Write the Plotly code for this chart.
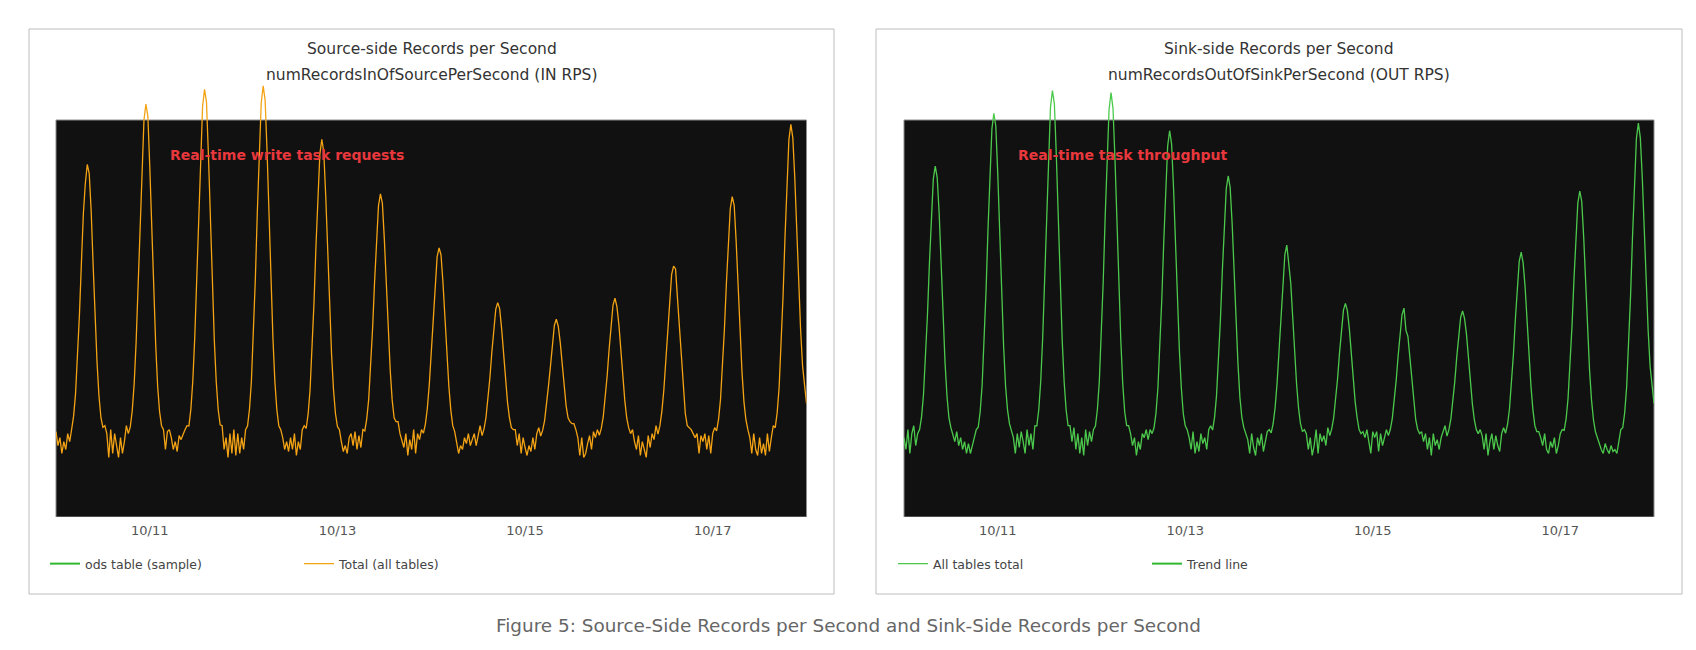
import pandas as pd
import plotly.graph_objects as go

W, H = 1696, 650

# ---------------- data (30-minute samples, 10/10 00:00 -> 10/18 00:00) ----------------
start_time = "2023-10-10 00:00"
tick_vals = ["2023-10-11", "2023-10-13", "2023-10-15", "2023-10-17"]
tick_text = ["10/11", "10/13", "10/15", "10/17"]

source_rps = [
    21.5, 18, 20, 16, 19, 17, 21, 19,
    22.1, 25.4, 31.0, 39.6, 51.0, 64.0, 76.4, 84.0, 88.8, 86.5, 77.0, 63.5, 50.5, 38.9, 30.4, 25.0, 22.6,
    23, 21, 15, 22, 16, 21, 18, 15, 20, 16, 19, 23, 21,
    22.7, 26.7, 33.6, 44.1, 57.9, 73.7, 89.0, 99.9, 104.0, 101.0, 88.0, 72.5, 57.0, 43.5, 33.0, 26.5, 23.0,
    22, 17, 21.5, 22, 20, 17, 19, 16.5, 20.5, 19.5, 21, 22, 23,
    22.9, 27.1, 34.3, 45.2, 59.6, 76.1, 92.0, 103.4, 107.7, 104.5, 91.0, 75.0, 59.0, 44.5, 34.0, 27.0, 23.2,
    23, 17, 20, 15, 21, 16, 22, 15.5, 21, 16, 20, 17, 22,
    22.9, 27.2, 34.4, 45.4, 60.0, 76.7, 92.7, 104.3, 108.6, 105.0, 92.0, 76.0, 59.5, 45.0, 34.0, 27.0, 23.0,
    22, 20, 17, 19, 16.5, 20, 17, 21, 15.5, 19, 17, 22, 23,
    22.3, 25.9, 32.1, 41.4, 53.9, 68.0, 81.6, 91.4, 95.1, 92.0, 81.0, 67.5, 53.5, 41.0, 32.0, 26.0, 22.8,
    22, 19, 16.5, 18, 16, 20, 21, 18, 21.5, 17, 20.5, 17.5, 22,
    21.7, 24.7, 29.7, 37.4, 47.6, 59.2, 70.4, 78.4, 81.4, 79.0, 70.0, 58.5, 47.0, 37.0, 29.5, 25.0, 24.0,
    24, 21, 19, 17.5, 21, 15.5, 19.5, 17, 22, 16, 21, 19.5, 22,
    21.1, 23.4, 27.4, 33.4, 41.4, 50.4, 59.2, 65.5, 67.8, 66.0, 59.0, 50.0, 41.0, 33.0, 27.0, 23.0, 21.5,
    19, 16, 18, 17, 20, 18.5, 21, 18, 19.5, 21, 18, 21, 23,
    20.5, 22.2, 25.0, 29.3, 35.0, 41.5, 47.8, 52.3, 54.0, 52.5, 47.5, 41.0, 34.5, 29.0, 25.0, 22.5, 22.0,
    22, 18, 21, 16, 20, 17.5, 15.5, 18, 16.5, 20, 17, 21, 22.5,
    20.4, 21.8, 24.3, 28.1, 33.1, 38.0, 42.5, 48.3, 49.8, 48.0, 44.0, 38.5, 33.0, 28.0, 25.0, 24.0, 23.5,
    23.5, 22, 20, 15.5, 20, 15, 16, 18.5, 20.5, 17, 21.5, 20, 22,
    20.6, 22.3, 25.2, 29.6, 35.5, 42.2, 48.7, 53.4, 55.1, 53.0, 48.5, 42.0, 35.0, 29.5, 25.0, 22.5, 21.0,
    22, 19, 17, 20.5, 15.5, 19, 17, 15, 20.5, 17.5, 21, 19.5, 23,
    20.9, 23.0, 26.6, 32.0, 39.2, 47.5, 55.4, 61.1, 63.2, 62.5, 55.0, 47.0, 39.0, 31.5, 26.0, 23.0, 22.5,
    22, 21, 20, 21, 16, 20.5, 19, 21, 17, 20.5, 16, 21, 22.5,
    21.7, 24.6, 29.6, 37.2, 47.3, 58.7, 69.8, 77.7, 80.7, 78.5, 69.5, 58.0, 46.5, 36.5, 29.0, 24.5, 22.0,
    20, 16, 21, 17, 15.5, 20, 16, 18.5, 15.5, 21, 16.5, 20, 23,
    22.5, 26.3, 32.7, 42.6, 55.6, 70.5, 84.8, 95.1, 98.9, 95.5, 85.5, 72.0, 59.0, 47.0, 38.0, 32.5, 28.6,
]

sink_rps = [
    20, 17, 22, 16, 21, 23, 18, 21,
    22.1, 25.3, 30.9, 39.5, 50.8, 63.7, 76.1, 85.1, 88.4, 85.5, 76.5, 63.0, 50.0, 39.0, 30.5, 25.0, 22.5,
    21, 19, 21.5, 18, 20, 17, 19, 16, 18.5, 16, 18, 20, 22,
    22.6, 26.5, 33.2, 43.4, 56.9, 72.3, 87.1, 97.7, 101.7, 98.5, 86.5, 71.5, 56.0, 43.0, 33.0, 27.0, 23.5,
    22, 20, 16, 21, 17.5, 21.5, 19, 16, 22, 18, 21, 17, 23,
    22.9, 27.0, 34.2, 45.1, 59.5, 75.9, 91.8, 103.2, 107.4, 104.0, 91.0, 75.0, 59.0, 44.5, 34.0, 27.0, 23.0,
    23, 19, 22.5, 17, 21, 16, 20, 15.5, 22, 18, 21.5, 19, 22,
    22.9, 27.0, 34.1, 44.9, 59.3, 75.6, 91.3, 102.7, 106.9, 103.0, 90.5, 75.0, 58.5, 44.5, 33.5, 26.5, 23.0,
    23, 21, 18, 20, 15.5, 19, 17, 21, 20, 22, 19.5, 22, 21,
    22.4, 26.1, 32.5, 42.1, 54.9, 69.4, 83.4, 93.5, 97.3, 94.0, 83.0, 69.0, 54.5, 42.0, 32.5, 26.0, 23.0,
    22, 20, 17, 21.5, 16, 19, 16.5, 21, 18.5, 20, 17, 22, 23,
    21.9, 25.1, 30.5, 38.7, 49.6, 62.1, 74.1, 82.7, 85.9, 83.0, 74.0, 61.5, 49.0, 38.5, 30.0, 25.0, 22.5,
    21, 19.5, 16, 21, 17.5, 15.5, 20, 18, 21, 16.5, 19, 21.5, 22,
    21.2, 23.5, 27.5, 33.6, 41.7, 50.9, 59.7, 66.1, 68.5, 64.0, 59.0, 50.5, 41.5, 33.5, 27.5, 23.5, 21.5,
    22, 21, 17, 20, 15.5, 18, 22, 16, 21, 19, 20.5, 18, 22.5,
    20.5, 22.2, 25.0, 29.3, 34.9, 41.4, 47.6, 52.1, 53.8, 52.0, 47.5, 41.0, 34.5, 29.0, 25.0, 22.0, 21.0,
    21.5, 20, 22, 19, 16, 21.5, 20, 21.5, 16.5, 21, 18, 20, 22,
    20.5, 22.1, 24.8, 28.9, 34.4, 40.6, 46.7, 51.0, 52.6, 47.0, 45.5, 40.0, 34.0, 28.5, 24.5, 22.0, 21.0,
    21.5, 19, 21, 17, 20, 15.5, 21, 18, 19.5, 17, 20, 21.5, 23,
    20.4, 22.0, 24.7, 28.7, 34.1, 40.2, 46.1, 50.3, 51.9, 50.0, 46.0, 40.0, 34.0, 28.5, 24.5, 22.0, 21.0,
    22, 20.5, 17, 21, 15.5, 19, 21, 17, 20.5, 18, 16.5, 21, 22.5,
    21.1, 23.3, 27.2, 33.1, 40.8, 49.7, 58.3, 64.4, 66.7, 64.0, 58.0, 49.5, 40.5, 33.0, 27.0, 23.0, 21.5,
    21.5, 20, 18, 21, 17, 16, 19, 17.5, 20, 16, 18, 21, 22,
    21.8, 24.7, 29.9, 37.6, 47.9, 59.6, 70.9, 79.1, 82.1, 79.5, 70.5, 59.0, 47.5, 37.0, 29.5, 24.5, 21.5,
    20, 18, 17, 16, 18.5, 17, 16, 18, 16.5, 17, 16, 19, 22,
    22.5, 26.3, 32.8, 42.7, 55.7, 70.6, 85.0, 95.4, 99.2, 95.5, 85.5, 72.0, 59.0, 47.0, 38.0, 32.5, 28.6,
]

times_src = pd.date_range(start_time, periods=len(source_rps), freq="30min")
times_snk = pd.date_range(start_time, periods=len(sink_rps), freq="30min")

# ---------------- styling ----------------
FONT = "DejaVu Sans"
ORANGE = "#f3a314"
GREEN = "#4cc94c"
LEG_GREEN = "#2eb82e"


def px_x(p):
    return p / W


def px_y(p):
    return 1 - p / H


fig = go.Figure()

# left panel traces
fig.add_trace(go.Scatter(x=[None], y=[None], mode="lines", name="ods table (sample)",
                         line=dict(color=LEG_GREEN, width=2), xaxis="x", yaxis="y", legend="legend"))
fig.add_trace(go.Scatter(x=times_src, y=source_rps, mode="lines", name="Total (all tables)",
                         line=dict(color=ORANGE, width=1.3), xaxis="x", yaxis="y",
                         legend="legend"))
# right panel traces
fig.add_trace(go.Scatter(x=times_snk, y=sink_rps, mode="lines", name="All tables total",
                         line=dict(color=GREEN, width=1.3), xaxis="x2", yaxis="y2",
                         legend="legend2"))
fig.add_trace(go.Scatter(x=[None], y=[None], mode="lines", name="Trend line",
                         line=dict(color=LEG_GREEN, width=2), xaxis="x2", yaxis="y2", legend="legend2"))

y_dom = [px_y(517), px_y(80)]
y_rng = [0, 437 / 3.97]
x_rng = ["2023-10-10 00:00", "2023-10-18 00:00"]

xax = dict(type="date", range=x_rng, tickvals=tick_vals, ticktext=tick_text, showgrid=False,
           zeroline=False, showline=False, ticks="", tickfont=dict(size=13, color="#555555"),
           ticklabelstandoff=4, fixedrange=True)
yax = dict(range=y_rng, domain=y_dom, showgrid=False, zeroline=False, showline=False,
           showticklabels=False, ticks="", fixedrange=True)

fig.update_layout(
    width=W, height=H,
    margin=dict(l=0, r=0, t=0, b=0),
    paper_bgcolor="white",
    plot_bgcolor="rgba(0,0,0,0)",
    font=dict(family=FONT, color="#333333"),
    xaxis=dict(domain=[px_x(56), px_x(806.5)], anchor="y", **xax),
    yaxis=dict(anchor="x", **yax),
    xaxis2=dict(domain=[px_x(904), px_x(1654)], anchor="y2", **xax),
    yaxis2=dict(anchor="x2", **yax),
    legend=dict(orientation="h", x=px_x(45), y=px_y(564), xanchor="left", yanchor="middle",
                font=dict(size=12.5, color="#444444"), entrywidth=209, entrywidthmode="pixels",
                bgcolor="rgba(0,0,0,0)"),
    legend2=dict(orientation="h", x=px_x(893), y=px_y(564), xanchor="left", yanchor="middle",
                 font=dict(size=12.5, color="#444444"), entrywidth=209, entrywidthmode="pixels",
                 bgcolor="rgba(0,0,0,0)"),
    showlegend=True,
)

shapes = []
# panel frames
for x0, x1 in [(29, 834), (876, 1682)]:
    shapes.append(dict(type="rect", xref="paper", yref="paper", x0=px_x(x0), x1=px_x(x1),
                       y0=px_y(594), y1=px_y(29), line=dict(color="#bdbdbd", width=1),
                       fillcolor="rgba(0,0,0,0)", layer="below"))
# dark plotting backgrounds
for xr, yr in [("x domain", "y"), ("x2 domain", "y2")]:
    shapes.append(dict(type="rect", xref=xr, yref=yr, x0=0, x1=1, y0=0, y1=100,
                       fillcolor="#111111", line=dict(color="#8c8c8c", width=1), layer="below"))
fig.update_layout(shapes=shapes)

annotations = [
    dict(text="Source-side Records per Second", x=px_x(431.5), y=px_y(49)),
    dict(text="numRecordsInOfSourcePerSecond (IN RPS)", x=px_x(431.5), y=px_y(75)),
    dict(text="Sink-side Records per Second", x=px_x(1279), y=px_y(49)),
    dict(text="numRecordsOutOfSinkPerSecond (OUT RPS)", x=px_x(1279), y=px_y(75)),
]
for a in annotations:
    a.update(xref="paper", yref="paper", showarrow=False, xanchor="center", yanchor="middle",
             font=dict(size=15.5, color="#333333", family=FONT))

annotations += [
    dict(text="<b>Real-time write task requests</b>", x=px_x(168), y=px_y(155), xref="paper",
         yref="paper", showarrow=False, xanchor="left", yanchor="middle",
         font=dict(size=14, color="#e8383d", family=FONT)),
    dict(text="<b>Real-time task throughput</b>", x=px_x(1016), y=px_y(155), xref="paper",
         yref="paper", showarrow=False, xanchor="left", yanchor="middle",
         font=dict(size=14, color="#e8383d", family=FONT)),
    dict(text="Figure 5: Source-Side Records per Second and Sink-Side Records per Second",
         x=0.5, y=px_y(625), xref="paper", yref="paper", showarrow=False, xanchor="center",
         yanchor="middle", font=dict(size=18.4, color="#666666", family=FONT)),
]
fig.update_layout(annotations=annotations)

fig.write_html("out.html")
